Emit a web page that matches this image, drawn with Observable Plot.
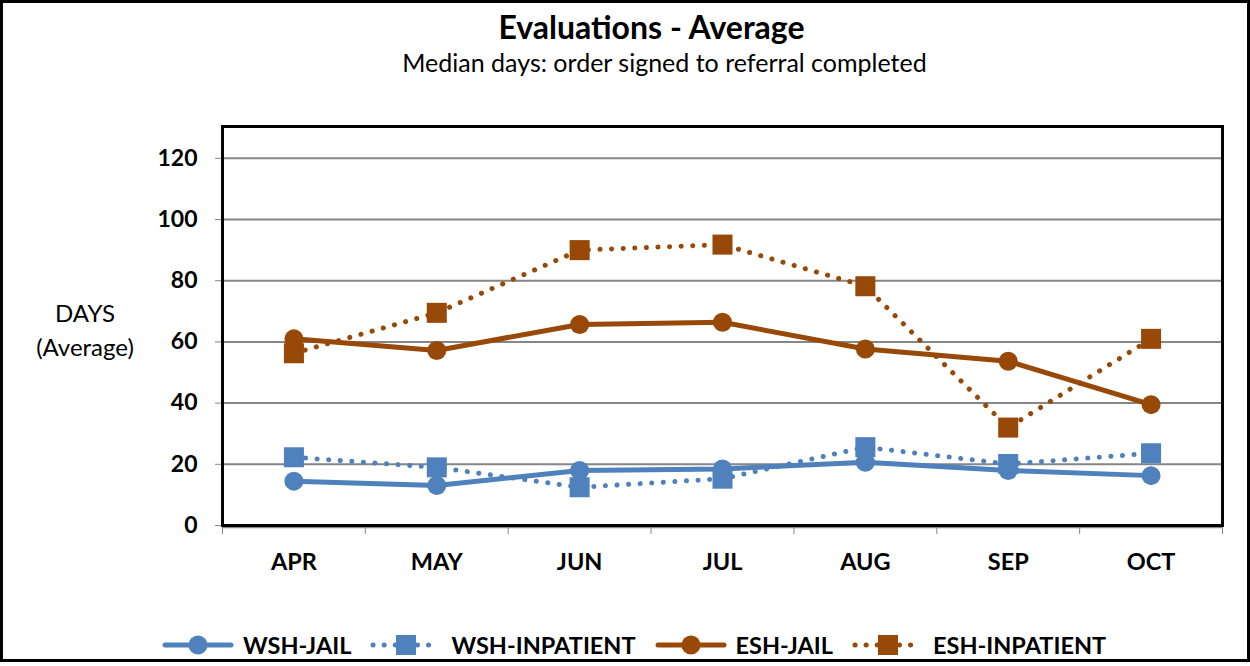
<!DOCTYPE html>
<html>
<head>
<meta charset="utf-8">
<script src="https://cdn.jsdelivr.net/npm/d3@7"></script>
<script src="https://cdn.jsdelivr.net/npm/@observablehq/plot@0.6"></script>
<style>
  body { margin: 0; background: #fff; font-family: Lato, "Open Sans", sans-serif; }
  #wrap { position: relative; width: 1250px; height: 662px; overflow: hidden; background: #fff; }
  #border { position: absolute; left: 0; top: 0; width: 1250px; height: 662px; box-sizing: border-box;
            border: 3px solid #000; pointer-events: none; z-index: 10; }
  .title { position: absolute; top: 8px; left: 0; width: 1303px; text-align: center;
           font-size: 32px; font-weight: bold; color: #000; line-height: 38px; }
  .subtitle { position: absolute; top: 46px; left: 0; width: 1329px; text-align: center;
              font-size: 25px; color: #000; line-height: 32px; }
  .ylab { position: absolute; left: 0; top: 296px; width: 170px; text-align: center;
          font-size: 24px; line-height: 34px; color: #000; }
  #chart { position: absolute; left: 0; top: 100px; }
  #legend { position: absolute; left: 162px; top: 632px; display: flex; align-items: center;
            font-size: 23.5px; font-weight: bold; color: #000; line-height: 26px; }
  .item { display: flex; align-items: center; margin-right: 19px; }
  .item svg { margin-right: 9px; }
</style>
</head>
<body>
<div id="wrap">
  <div class="title">Evaluations - Average</div>
  <div class="subtitle">Median days: order signed to referral completed</div>
  <div class="ylab">DAYS<br>(Average)</div>
  <div id="chart"></div>
  <div id="legend"></div>
  <div id="border"></div>
</div>
<script>
// ---- data ----
const months = ["APR", "MAY", "JUN", "JUL", "AUG", "SEP", "OCT"];
const wshJail = [14.5, 13.1, 18.0, 18.5, 20.7, 18.0, 16.3];
const wshInpatient = [22.3, 19.0, 12.5, 15.3, 25.6, 20.1, 23.6];
const eshJail = [61.0, 57.2, 65.7, 66.4, 57.7, 53.7, 39.5];
const eshInpatient = [56.3, 69.5, 90.0, 91.8, 78.2, 32.0, 61.0];
const seriesNames = ["WSH-JAIL", "WSH-INPATIENT", "ESH-JAIL", "ESH-INPATIENT"];
const yTicks = [0, 20, 40, 60, 80, 100, 120];

const BLUE = "#4f81bd", BROWN = "#984807";
const series = [
  {name: seriesNames[0], values: wshJail, color: BLUE, dotted: false, symbol: "circle"},
  {name: seriesNames[1], values: wshInpatient, color: BLUE, dotted: true, symbol: "square"},
  {name: seriesNames[2], values: eshJail, color: BROWN, dotted: false, symbol: "circle"},
  {name: seriesNames[3], values: eshInpatient, color: BROWN, dotted: true, symbol: "square"}
];
const DASH = "0.1 11.5";
const bounds = d3.range(months.length + 1).map(i => i - 0.5);

const marks = [
  Plot.gridY(yTicks.filter(t => t > 0), {stroke: "#868686", strokeOpacity: 1, strokeWidth: 2}),
  Plot.axisY({ticks: yTicks, tickSize: 7, tickPadding: 18, stroke: "#888", fill: "#000",
              fontSize: 23, fontWeight: "bold", label: null}),
  Plot.axisX({ticks: bounds, tickSize: 9, stroke: "#888", tickFormat: () => "", label: null}),
  Plot.axisX({ticks: d3.range(months.length), tickSize: 0, tickPadding: 28, fill: "#000",
              fontSize: 23.5, fontWeight: "bold", tickFormat: i => months[i], label: null}),
  Plot.ruleY([0], {stroke: "#888", strokeWidth: 1.5, dy: 2})
];
for (const s of series) {
  const rows = s.values.map((v, i) => ({i, v, name: s.name}));
  marks.push(Plot.line(rows, {x: "i", y: "v", stroke: s.color, strokeWidth: 5,
    strokeDasharray: s.dotted ? DASH : undefined, strokeLinecap: "round", strokeLinejoin: "round"}));
  marks.push(Plot.dot(rows, {x: "i", y: "v", symbol: s.symbol, fill: s.color, stroke: "none",
    r: s.symbol === "square" ? 11.3 : 9.5}));
}
marks.push(Plot.frame({stroke: "#000", strokeWidth: 3}));

const chart = Plot.plot({
  width: 1250,
  height: 480,
  marginTop: 26,
  marginBottom: 55,
  marginLeft: 222,
  marginRight: 28,
  x: {type: "linear", domain: [-0.5, months.length - 0.5]},
  y: {domain: [0, 130.4]},
  style: {fontFamily: "Lato, 'Open Sans', sans-serif", background: "transparent", color: "#000"},
  marks
});
document.getElementById("chart").appendChild(chart);

// ---- legend ----
const legend = d3.select("#legend");
for (const s of series) {
  const item = legend.append("div").attr("class", "item");
  const svg = item.append("svg").attr("width", 72).attr("height", 24);
  svg.append("line").attr("x1", 3).attr("x2", 69).attr("y1", 12).attr("y2", 12)
    .attr("stroke", s.color).attr("stroke-width", 5).attr("stroke-linecap", "round")
    .attr("stroke-dasharray", s.dotted ? "0.1 11" : null);
  if (s.symbol === "circle") svg.append("circle").attr("cx", 36).attr("cy", 12).attr("r", 9.5).attr("fill", s.color);
  else svg.append("rect").attr("x", 26).attr("y", 2).attr("width", 20).attr("height", 20).attr("fill", s.color);
  item.append("span").text(s.name);
}
</script>
</body>
</html>
